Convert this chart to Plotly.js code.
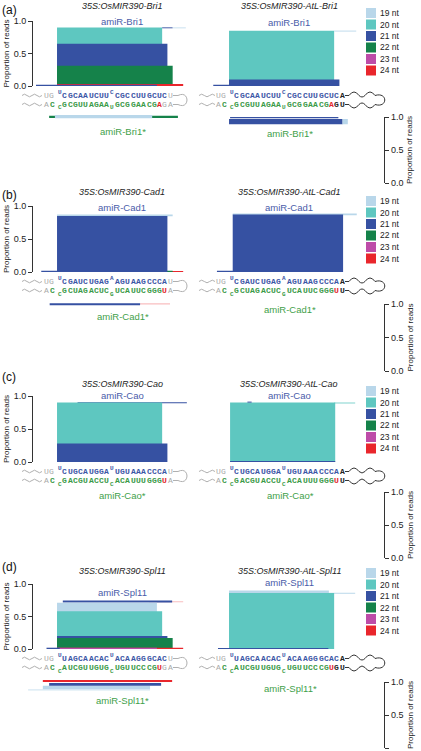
<!DOCTYPE html>
<html><head><meta charset="utf-8">
<script src="https://cdn.plot.ly/plotly-3.0.1.min.js"></script>
<style>html,body{margin:0;padding:0;background:#fff}#chart{width:421px;height:751px}</style>
</head><body><div id="chart"></div>
<script>
const W = 421, H = 751;
const FONT = 'Liberation Sans, Arial, Helvetica, sans-serif';
const MONO = 'Liberation Mono, DejaVu Sans Mono, monospace';

// ---------------- data ----------------
const sizeLabels = ['19 nt','20 nt','21 nt','22 nt','23 nt','24 nt'];
const sizeNt = [19,20,21,22,23,24];
const sizeColors = ['#b9d7ea','#5ec7c0','#3651a2','#15824a','#bd4ca8','#e9262c'];

const panelLetters = ['(a)','(b)','(c)','(d)'];
const amiRNames = ['amiR-Bri1','amiR-Cad1','amiR-Cao','amiR-Spl11'];
const osTitles = ['35S:OsMIR390-Bri1','35S:OsMIR390-Cad1','35S:OsMIR390-Cao','35S:OsMIR390-Spl11'];
const atlTitles = ['35S:OsMIR390-AtL-Bri1','35S:OsMIR390-AtL-Cad1','35S:OsMIR390-AtL-Cao','35S:OsMIR390-AtL-Spl11'];
const tickVals = [0, 0.5, 1];
const tickText = ['0.0','0.5','1.0'];

// reads: [start (nt), length (nt), base proportion, top proportion, size class (nt), opacity]
const bri1Os = [[4,20,0,0.90,20,1],[24,2,0.888,0.902,21,1],[26,2.5,0.888,0.90,19,1],[4,21,0,0.65,21,1],[4,22,0,0.31,22,1],[4,24,0,0.03,24,1],[0,23,0,0.018,21,1]];
const bri1OsStar = [[2.5,24.5,0.01,0.045,22,1],[3.6,18.5,0,0.05,19,1]];
const bri1AtL = [[4,20,0,0.85,20,1],[24,4.2,0.838,0.852,19,1],[4,21,0,0.10,21,1],[1,23,0,0.02,21,1]];
const bri1AtLStar = [[4.2,20.6,0.03,0.05,21,1],[4,21.6,0.06,0.14,21,1],[25.6,1,0.06,0.14,19,1]];

const cad1Os = [[4,22,0.845,0.87,19,1],[4,24,0,0.015,24,1],[4,22,0,0.02,22,1],[4,21,0,0.85,21,1],[1,21.5,0,0.02,21,1]];
const cad1OsStar = [[19.8,5.7,0.05,0.07,24,0.3],[2.6,17.2,0.05,0.08,21,1]];
const cad1AtL = [[4.7,23.6,0.86,0.885,19,1],[4.7,21,0,0.87,21,1],[1.7,22,0,0.02,21,1]];
const cad1AtLStar = [];

const caoOs = [[7.9,20.8,0.89,0.905,21,1],[4,20,0,0.90,20,1],[4,21,0,0.28,21,1]];
const caoOsStar = [];
const caoAtL = [[24,4,0.888,0.90,20,1],[4.2,20,0,0.90,20,1],[7.5,0.8,0.90,0.915,21,1],[4.2,20,0,0.015,21,1]];
const caoAtLStar = [];

const spl11Os = [[21.5,6.5,0.72,0.735,24,0.3],[5.1,20.8,0.715,0.745,21,1],[4,19,0,0.71,19,1],[4,20,0,0.58,20,1],[4,21,0,0.20,21,1],[4,22,0,0.17,22,1],[4,24,0,0.02,24,1],[4,19,0,0.02,23,1],[2,2.5,0,0.02,21,1]];
const spl11OsStar = [[-1.5,23.2,0.17,0.19,19,0.6],[1.3,20.4,0.12,0.17,19,1],[2.5,21.3,0.075,0.12,21,1],[1.3,24.6,0.03,0.06,24,1]];
const spl11AtL = [[4,19,0,0.90,19,1],[23,5,0.85,0.865,19,1],[4,20,0,0.86,20,1],[1.9,21,0,0.015,21,1]];
const spl11AtLStar = [];

// hairpin sequences (top = amiRNA strand, bottom = amiRNA* strand)
const bri1OsSeq  = ["@2 gU gG @4.5 ^bU bCGCAAUCUU ^bC bCGCCUUGCUC gU", "@2 gA @3.2 nC @4.5 _nC nGCGUUAGAA _nU nGCGGAACG rA gGA"];
const bri1AtLSeq = ["@2 gU gG @4.5 ^bU bCGCAAUCUU ^bC bCGCCUUGCUC kA", "@2 gA @3.2 nC @4.5 _nC nGCGUUAGAA _nU nGCGGAACG rA kGU"];
const cad1OsSeq  = ["@2 gU gG @4.5 ^bU bCGAUCUGAG ^bA bAGUAAGCCCA gU", "@2 gA @3.2 nC @4.5 _nC nGCUAGACUC _nG nUCAUUCGGG rU gA"];
const cad1AtLSeq = ["@2 gU gG @4.5 ^bU bCGAUCUGAG ^bA bAGUAAGCCCA kA", "@2 gA @3.2 nC @4.5 _nC nGCUAGACUC _nG nUCAUUCGGG rU kU"];
const caoOsSeq   = ["@2 gU gG @4.5 ^bU bCUGCAUGGA ^bU bUGUAAACCCA gU", "@2 gA @3.2 nC @4.5 _nC nGACGUACCU _nC nACAUUUGGG rU gA"];
const caoAtLSeq  = ["@2 gU gG @4.5 ^bU bCUGCAUGGA ^bU bUGUAAACCCA kA", "@2 gA @3.2 nC @4.5 _nC nGACGUACCU _nC nACAUUUGGG rU kU"];
const spl11OsSeq = ["@2 gU gG @4.5 ^bU bUAGCAACAC ^bU bACAAGGGCAC gU", "@2 gA @3.2 nC @4.5 _nC nAUCGUUGUG _nC nUGUUCCCG rU gGA"];
const spl11AtLSeq= ["@2 gU gG @4.5 ^bU bUAGCAACAC ^bU bACAAGGGCAC kA", "@2 gA @3.2 nC @4.5 _nC nAUCGUUGUG _nC nUGUUCCCG rU kGU"];

const readsOs = [bri1Os, cad1Os, caoOs, spl11Os];
const readsOsStar = [bri1OsStar, cad1OsStar, caoOsStar, spl11OsStar];
const readsAtL = [bri1AtL, cad1AtL, caoAtL, spl11AtL];
const readsAtLStar = [bri1AtLStar, cad1AtLStar, caoAtLStar, spl11AtLStar];
const seqOs = [bri1OsSeq, cad1OsSeq, caoOsSeq, spl11OsSeq];
const seqAtL = [bri1AtLSeq, cad1AtLSeq, caoAtLSeq, spl11AtLSeq];

// ---------------- layout geometry (px) ----------------
const geo = [
  {lab:10,  title:6,   top:21,  zero:86,  starBase:115, scaleTop:117, scaleBot:183, legend:13,  miLab:[21,22],   starLab:[131,133]},
  {lab:195, title:192, top:206, zero:272, starBase:300, scaleTop:304, scaleBot:371, legend:201, miLab:[207,207], starLab:[316,310]},
  {lab:377, title:384, top:396, zero:462, starBase:490, scaleTop:492, scaleBot:558, legend:391, miLab:[395,395], starLab:[495,495]},
  {lab:567, title:571, top:584, zero:649, starBase:678, scaleTop:682, scaleBot:748, legend:573, miLab:[592,582], starLab:[700,688]}
];
const xDom = [[20,200],[200,372]];
const xRng = [[-3.044,31.2],[-1.522,31.2]];
const labCx = [122, 289];
const starDepth = 0.3, pxPerUnit = 65.5;

const seqColors = {g:'#a9a9a9', b:'#3b56a6', n:'#3a9a48', r:'#e3262b', k:'#222222'};
const blueLab = '#4a5ca9', greenLab = '#3f9f4a';

const fy = px => 1 - px / H;
const fx = px => px / W;
const aid = i => (i === 1 ? '' : String(i));

const data = [];
const layout = {
  width: W, height: H, margin: {l:0, r:0, t:0, b:0},
  paper_bgcolor: '#ffffff', plot_bgcolor: 'rgba(0,0,0,0)',
  showlegend: false, barmode: 'overlay', hovermode: false,
  font: {family: FONT, color: '#222'},
  annotations: [], shapes: []
};

function barTrace(reads, i) {
  return {
    type: 'bar', xaxis: 'x' + aid(i), yaxis: 'y' + aid(i),
    x: reads.map(r => r[0] + r[1] / 2), width: reads.map(r => r[1]),
    base: reads.map(r => r[2]), y: reads.map(r => r[3] - r[2]),
    marker: {color: reads.map(r => sizeColors[sizeNt.indexOf(r[4])]), opacity: reads.map(r => r[5]), line: {width: 0}},
    hoverinfo: 'skip', showlegend: false
  };
}

function seqAnn(row, i, ypx) {
  let pos = 0;
  row.split(' ').forEach(tok => {
    if (tok[0] === '@') { pos = parseFloat(tok.slice(1)); return; }
    let shift = 0;
    if (tok[0] === '^') { shift = -3.5; tok = tok.slice(1); }
    else if (tok[0] === '_') { shift = 3.5; tok = tok.slice(1); }
    const c = tok[0];
    for (const ch of tok.slice(1)) {
      layout.annotations.push({
        xref: 'x' + aid(i), yref: 'paper', x: pos, y: fy(ypx + shift),
        text: ch, showarrow: false, xanchor: 'center', yanchor: 'middle', borderpad: 0,
        font: {family: MONO, size: shift ? 6 : 8, color: seqColors[c], weight: c === 'g' ? 'normal' : 'bold'}
      });
      pos += 1;
    }
  });
}

function P(x, y) { return fx(x).toFixed(5) + ',' + fy(y).toFixed(5); }
function wave(x0, x1, y, amp, n) {
  let d = 'M' + P(x0, y); const st = (x1 - x0) / n;
  for (let k = 0; k < n; k++) {
    const xa = x0 + st * k, xb = xa + st;
    d += ' Q' + P((xa + xb) / 2, y + (k % 2 === 0 ? -amp : amp) * 2) + ' ' + P(xb, y);
  }
  return d;
}
function addPath(d, color) {
  layout.shapes.push({type: 'path', xref: 'paper', yref: 'paper', path: d, line: {color: color, width: 1}, fillcolor: 'rgba(0,0,0,0)'});
}
function txt(x, y, text, size, color, extra) {
  layout.annotations.push(Object.assign({xref: 'paper', yref: 'paper', x: fx(x), y: fy(y), text: text, showarrow: false,
    xanchor: 'center', yanchor: 'middle', borderpad: 0, font: {family: FONT, size: size, color: color}}, extra || {}));
}

for (let p = 0; p < 4; p++) {
  const g = geo[p];
  const rowT = g.zero + 9.5, rowB = g.zero + 18.5;
  for (let s = 0; s < 2; s++) {
    const iu = p * 4 + s * 2 + 1, is = iu + 1;
    const xd = [fx(xDom[s][0]), fx(xDom[s][1])];
    layout['xaxis' + aid(iu)] = {domain: xd, range: xRng[s], visible: false, anchor: 'y' + aid(iu), fixedrange: true};
    layout['xaxis' + aid(is)] = {domain: xd, range: xRng[s], visible: false, anchor: 'y' + aid(is), fixedrange: true};
    const yu = {domain: [fy(g.zero), fy(g.top)], range: [0, 1], fixedrange: true, showgrid: false, zeroline: false};
    if (s === 0) {
      Object.assign(yu, {anchor: 'free', position: fx(32), showline: true, linecolor: '#333', linewidth: 1.2,
        ticks: 'outside', ticklen: 4, tickwidth: 1, tickcolor: '#333', tickvals: tickVals, ticktext: tickText,
        tickfont: {family: FONT, size: 9, color: '#222'}});
    } else {
      Object.assign(yu, {anchor: 'x' + aid(iu), visible: false});
    }
    layout['yaxis' + aid(iu)] = yu;
    layout['yaxis' + aid(is)] = {domain: [fy(g.starBase + starDepth * pxPerUnit), fy(g.starBase)], range: [starDepth, 0],
      anchor: 'x' + aid(is), visible: false, fixedrange: true};

    const up = s === 0 ? readsOs[p] : readsAtL[p];
    const dn = s === 0 ? readsOsStar[p] : readsAtLStar[p];
    if (up.length) data.push(barTrace(up, iu));
    if (dn.length) data.push(barTrace(dn, is));

    const sq = s === 0 ? seqOs[p] : seqAtL[p];
    seqAnn(sq[0], iu, rowT);
    seqAnn(sq[1], iu, rowB);

    // labels
    txt(labCx[s], g.title, '<i>' + (s === 0 ? osTitles[p] : atlTitles[p]) + '</i>', 9, '#222');
    txt(labCx[s], g.miLab[s], amiRNames[p], 9.5, blueLab);
    txt(labCx[s] + 1, g.starLab[s], amiRNames[p] + '*', 9.5, greenLab);

    // hairpin drawing
    if (s === 0) {
      addPath(wave(22, 42, rowT, 1.3, 4), '#b0b0b0');
      addPath(wave(22, 42, rowB, 1.3, 4), '#b0b0b0');
      addPath('M' + P(173, rowT) + ' L' + P(178, rowT) + ' C' + P(190, rowT - 6) + ' ' + P(190, rowB + 6) + ' ' + P(178, rowB) + ' L' + P(173, rowB), '#b0b0b0');
    } else {
      addPath(wave(199, 215, rowT, 1.3, 3), '#b0b0b0');
      addPath(wave(199, 215, rowB, 1.3, 3), '#b0b0b0');
      const d = 'M' + P(345, rowT) + ' L' + P(349, rowT) +
        ' Q' + P(354, rowT - 7) + ' ' + P(359, rowT) + ' Q' + P(362, rowT + 3) + ' ' + P(365, rowT) +
        ' Q' + P(370, rowT - 7) + ' ' + P(375, rowT) + ' C' + P(388, rowT - 4) + ' ' + P(388, rowB + 4) + ' ' + P(375, rowB) +
        ' Q' + P(370, rowB + 7) + ' ' + P(365, rowB) + ' Q' + P(362, rowB - 3) + ' ' + P(359, rowB) +
        ' Q' + P(354, rowB + 7) + ' ' + P(349, rowB) + ' L' + P(345, rowB);
      addPath(d, '#333');
    }
  }
  // panel letter and left axis title
  txt(1, g.lab, panelLetters[p], 12, '#111', {xanchor: 'left'});
  txt(6, (g.top + g.zero) / 2, 'Proportion of reads', 8, '#222', {textangle: -90});

  // right-hand scale for amiRNA* reads
  const ys = 17 + p;
  layout['yaxis' + ys] = {domain: [fy(g.scaleBot), fy(g.scaleTop)], range: [0, 1], anchor: 'free', position: fx(384), side: 'right',
    showline: true, linecolor: '#333', linewidth: 1.2, ticks: 'outside', ticklen: 4, tickwidth: 1, tickcolor: '#333',
    tickvals: tickVals, ticktext: tickText, tickfont: {family: FONT, size: 9, color: '#222'}, showgrid: false, zeroline: false, fixedrange: true};
  data.push({type: 'scatter', mode: 'markers', x: [0], y: [0], xaxis: 'x' + aid(p * 4 + 4), yaxis: 'y' + ys,
    marker: {opacity: 0, size: 1}, hoverinfo: 'skip', showlegend: false});
  txt(410, (g.scaleTop + g.scaleBot) / 2, 'Proportion of reads', 8, '#222', {textangle: -90});

  // size-class key
  for (let k = 0; k < sizeLabels.length; k++) {
    const yc = g.legend + k * 11.5;
    layout.shapes.push({type: 'rect', xref: 'paper', yref: 'paper', x0: fx(366), x1: fx(376), y0: fy(yc + 5), y1: fy(yc - 5),
      fillcolor: sizeColors[k], line: {width: 0}});
    txt(379, yc, sizeLabels[k], 8.5, '#222', {xanchor: 'left'});
  }
}

Plotly.newPlot('chart', data, layout, {staticPlot: true, displayModeBar: false});
</script>
</body></html>
